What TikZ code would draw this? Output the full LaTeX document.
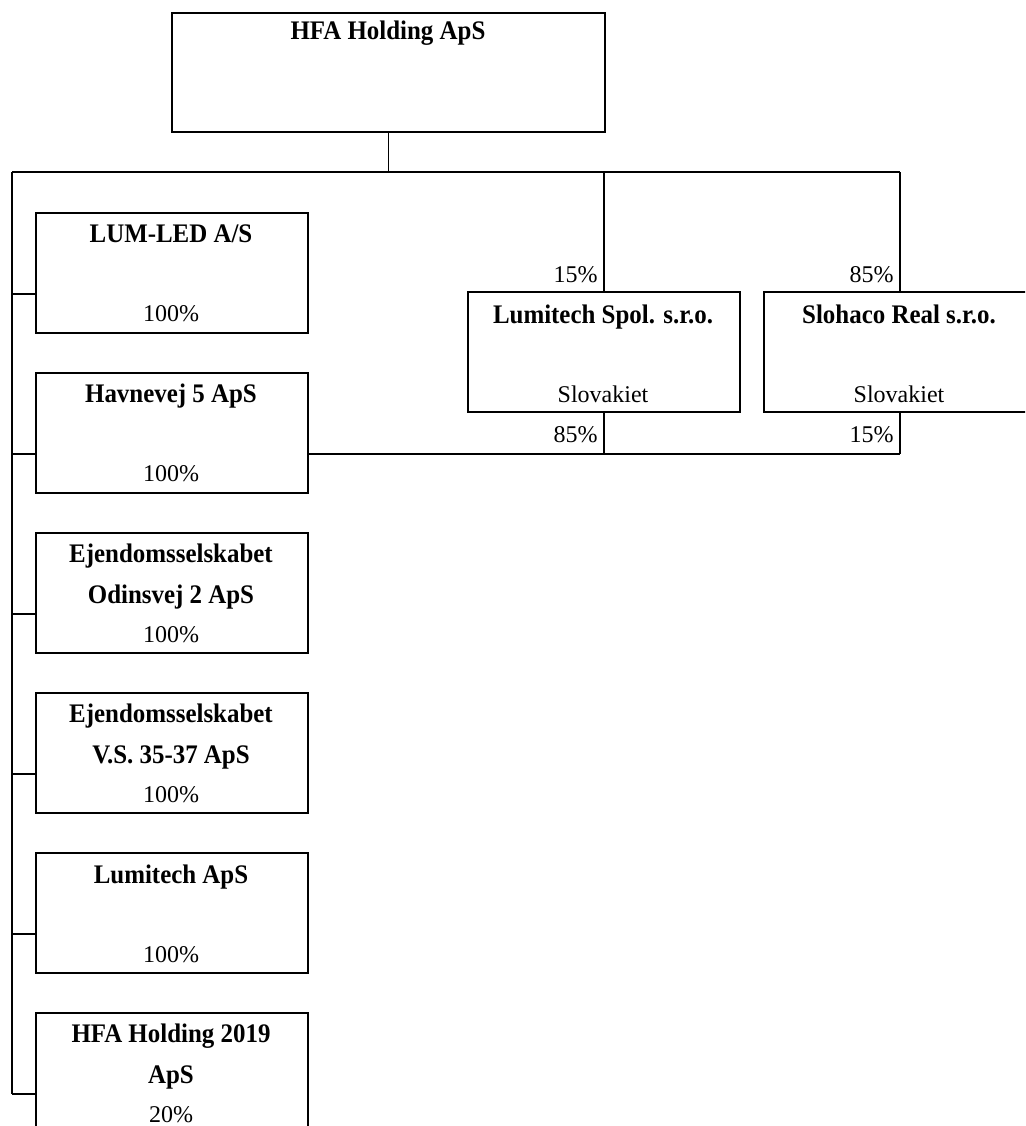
\documentclass[tikz,border=0pt]{standalone}
\usepackage{fontspec}
\setmainfont{Liberation Serif}[BoldFeatures={FakeStretch=0.93}]
\usetikzlibrary{calc}
\begin{document}
\begin{tikzpicture}[x=0.5pt,y=-0.5pt,
  ln/.style={line width=0.95pt},
  box/.style={draw, line width=0.95pt, rectangle, inner sep=0pt, anchor=north west,
              minimum width=136pt, minimum height=60pt},
  ttl/.style={anchor=base, inner sep=0pt, font=\fontsize{13.4}{16}\selectfont\bfseries},
  pct/.style={anchor=base, inner sep=0pt, font=\fontsize{12}{14}\selectfont},
  pctr/.style={anchor=base east, inner sep=0pt, font=\fontsize{12}{14}\selectfont}]
\clip (0,0) rectangle (1025,1126);

% top box
\node[box, minimum width=216.5pt, minimum height=59.5pt] (top) at (171,12) {};
\node[ttl] (ttop) at (388,39) {HFA Holding ApS};

% Slovak companies
\node[box] (lsp) at (467,291) {};
\node[ttl] (tlsp) at (603,323) {Lumitech Spol. s.r.o.};
\node[pct] (slsp) at (603,402) {Slovakiet};
\node[box] (slo) at (763,291) {};
\node[ttl] (tslo) at (899,323) {Slohaco Real s.r.o.};
\node[pct] (sslo) at (899,402) {Slovakiet};
\node[pctr] (p1) at (598,282) {15\%};
\node[pctr] (p2) at (894,282) {85\%};
\node[pctr] (p3) at (598,442) {85\%};
\node[pctr] (p4) at (894,442) {15\%};

% left boxes
\node[box] (b1) at (35,212) {};
\node[ttl] (t1a) at (171,242) {LUM-LED A/S};
\node[pct] (t1b) at (171,321) {100\%};

\node[box] (b2) at (35,372) {};
\node[ttl] (t2a) at (171,402) {Havnevej 5 ApS};
\node[pct] (t2b) at (171,481) {100\%};

\node[box] (b3) at (35,532) {};
\node[ttl] (t3a) at (171,562) {Ejendomsselskabet};
\node[ttl] (t3b) at (171,603) {Odinsvej 2 ApS};
\node[pct] (t3c) at (171,642) {100\%};

\node[box] (b4) at (35,692) {};
\node[ttl] (t4a) at (171,722) {Ejendomsselskabet};
\node[ttl] (t4b) at (171,763) {V.S. 35-37 ApS};
\node[pct] (t4c) at (171,802) {100\%};

\node[box] (b5) at (35,852) {};
\node[ttl] (t5a) at (171,883) {Lumitech ApS};
\node[pct] (t5b) at (171,962) {100\%};

\node[box] (b6) at (35,1012) {};
\node[ttl] (t6a) at (171,1042) {HFA Holding 2019};
\node[ttl] (t6b) at (171,1083) {ApS};
\node[pct] (t6c) at (171,1122) {20\%};

% bus lines
\coordinate (busL) at (12,172);
\coordinate (busR) at (slo.north |- busL);
\draw[ln] (top.south) -- (top.south |- busL);
\draw[ln] (busL) -- (busR);
\draw[ln] (lsp.north) -- (lsp.north |- busL);
\draw[ln] (slo.north) -- (busR);

% tick points on left boxes (two thirds down)
\foreach \b in {b1,b2,b3,b4,b5,b6}{
  \coordinate (\b t) at ($(\b.south west)+(0,-40)$);
  \draw[ln] (busL |- \b t) -- (\b t);
}
\draw[ln] (busL) -- (busL |- b6t);

% Havnevej to Slovak companies
\coordinate (b2e) at ($(b2.south east)+(0,-40)$);
\coordinate (botR) at (slo.south |- b2e);
\draw[ln] (b2e) -- (botR);
\draw[ln] (lsp.south) -- (lsp.south |- b2e);
\draw[ln] (slo.south) -- (botR);
\end{tikzpicture}
\end{document}
